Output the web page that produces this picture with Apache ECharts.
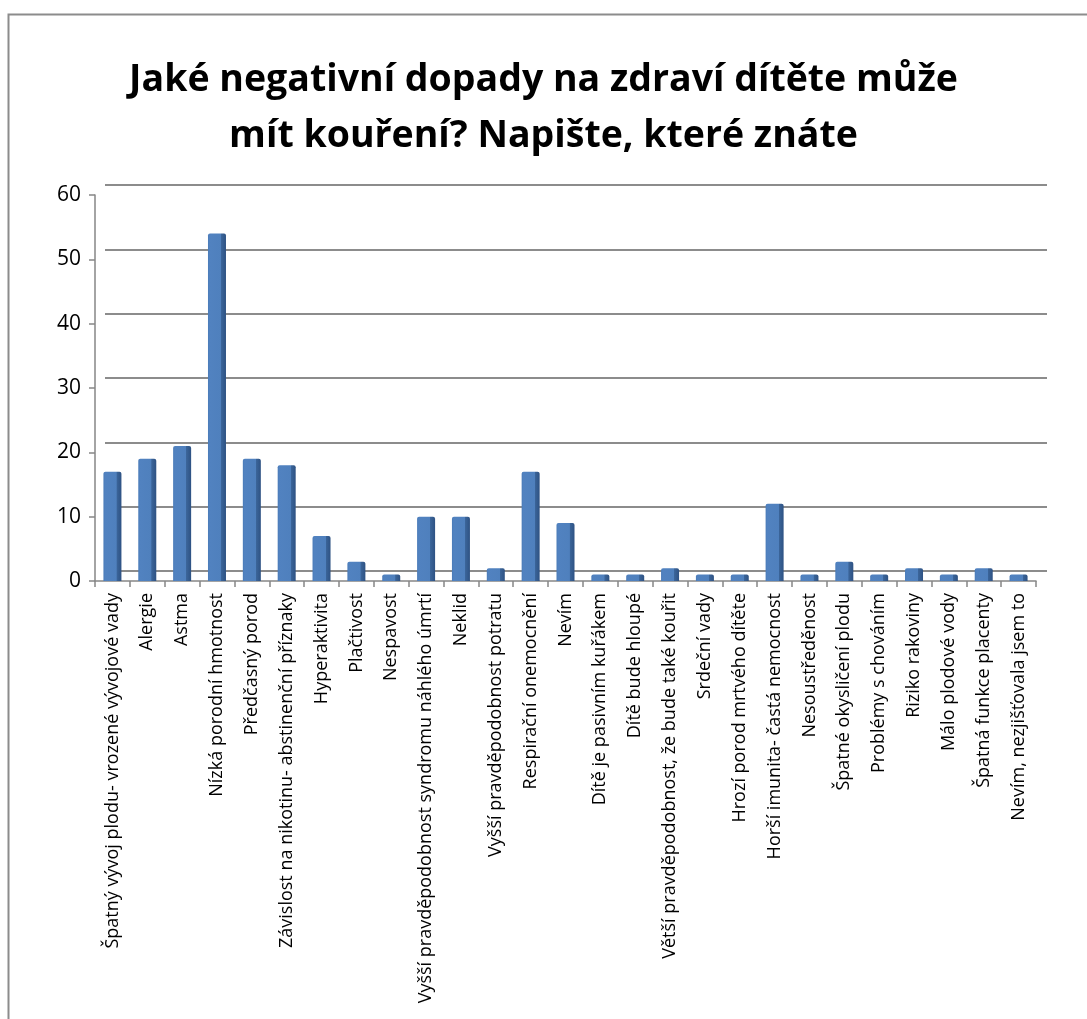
<!DOCTYPE html>
<html><head><meta charset="utf-8">
<script src="https://cdn.jsdelivr.net/npm/echarts@6/dist/echarts.min.js"></script>
<style>html,body{margin:0;padding:0;background:#fff}#c{width:1087px;height:1019px}</style>
</head><body><div id="c"></div>
<script>
const titleText = 'Jaké negativní dopady na zdraví dítěte může\nmít kouření? Napište, které znáte';
const categories = [
  'Špatný vývoj plodu- vrozené vývojové vady','Alergie','Astma','Nízká porodní hmotnost','Předčasný porod',
  'Závislost na nikotinu- abstinenční příznaky','Hyperaktivita','Plačtivost','Nespavost',
  'Vyšší pravděpodobnost syndromu náhlého úmrtí','Neklid','Vyšší pravděpodobnost potratu','Respirační onemocnění',
  'Nevím','Dítě je pasivním kuřákem','Dítě bude hloupé','Větší pravděpodobnost, že bude také kouřit','Srdeční vady',
  'Hrozí porod mrtvého dítěte','Horší imunita- častá nemocnost','Nesoustředěnost','Špatné okysličení plodu',
  'Problémy s chováním','Riziko rakoviny','Málo plodové vody','Špatná funkce placenty','Nevím, nezjišťovala jsem to'
];
const values = [17,19,21,54,19,18,7,3,1,10,10,2,17,9,1,1,2,1,1,12,1,3,1,2,1,2,1];
const yTicks = [0,10,20,30,40,50,60];

const chart = echarts.init(document.getElementById('c'));
chart.setOption({
  animation: false,
  backgroundColor: '#fff',
  title: {
    text: titleText, left: 'center', top: 47,
    textStyle: {fontFamily: 'Open Sans', fontWeight: 'bold', fontSize: 37.5, lineHeight: 56, color: '#000'}
  },
  graphic: [{type:'rect', shape:{x:8.5,y:14.5,width:1200,height:1200}, style:{fill:'none', stroke:'#8c8c8c', lineWidth:2}, silent:true, z:-10}],
  grid: [
    {left: 95, right: 51, top: 195, bottom: 438},
    {left: 105, right: 40, top: 185, bottom: 448}
  ],
  xAxis: [
    {type:'category', gridIndex:0, data: categories,
     axisLine:{lineStyle:{color:'#868686', width:1.5}},
     axisTick:{show:true, alignWithLabel:false, length:6, lineStyle:{color:'#868686', width:1.5}},
     axisLabel:{rotate:90, interval:0, fontFamily:'Open Sans', fontSize:18, color:'#000', margin:12}},
    {type:'category', gridIndex:1, data: categories, show:false}
  ],
  yAxis: [
    {type:'value', gridIndex:0, min:0, max:60, interval:10,
     axisLine:{show:true, lineStyle:{color:'#868686', width:1.5}},
     axisTick:{show:true, length:6, lineStyle:{color:'#868686', width:1.5}},
     splitLine:{show:false},
     axisLabel:{fontFamily:'Open Sans', fontSize:21, color:'#000', margin:14,
       formatter: v => yTicks.indexOf(v) >= 0 ? String(v) : ''}},
    {type:'value', gridIndex:1, min:0, max:60, interval:10,
     axisLine:{show:false}, axisTick:{show:false}, axisLabel:{show:false},
     splitLine:{show:true, lineStyle:{color:'#8c8c8c', width:2}}}
  ],
  series: [{
    type:'bar', xAxisIndex:0, yAxisIndex:0, data: values, barWidth: 18,
    itemStyle:{color: new echarts.graphic.LinearGradient(0,0,1,0,[
      {offset:0, color:'#4a7bb8'},{offset:0.1, color:'#5182c0'},{offset:0.72, color:'#4f80bd'},
      {offset:0.74, color:'#3b659a'},{offset:1, color:'#2e5283'}]),
      borderRadius:[2,2,0,0]}
  }]
});
</script></body></html>
